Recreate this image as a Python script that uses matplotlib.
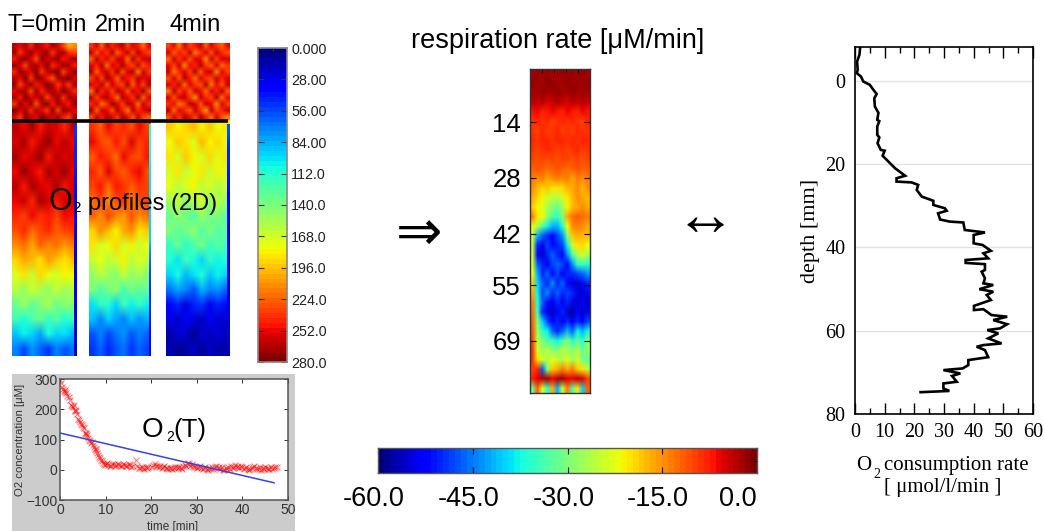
# oxygen profiles, respiration rate and depth profile panels

import numpy as np
import matplotlib
matplotlib.use('Agg')
import matplotlib.pyplot as plt
from matplotlib.transforms import ScaledTranslation

W = 1044
H = 531

# O2 images above the black line, values in uM
top_t0 = [
    [264, 252, 266, 244, 270, 258, 248, 268, 256, 236, 204, 214],
    [270, 240, 258, 272, 250, 266, 274, 238, 262, 268, 244, 236],
    [248, 268, 274, 254, 236, 272, 256, 264, 274, 246, 258, 270],
    [272, 256, 234, 270, 264, 250, 276, 242, 252, 272, 266, 248],
    [242, 274, 262, 252, 276, 238, 260, 270, 276, 234, 254, 274],
    [266, 250, 276, 240, 268, 272, 246, 230, 264, 270, 276, 256],
    [274, 236, 256, 272, 246, 258, 276, 266, 240, 254, 238, 268],
    [252, 270, 264, 232, 274, 242, 262, 274, 250, 276, 262, 244],
    [268, 246, 276, 258, 254, 270, 236, 256, 272, 240, 270, 264],
    [240, 272, 250, 274, 228, 264, 276, 248, 268, 258, 246, 274],
    [276, 258, 268, 244, 270, 252, 240, 272, 234, 274, 266, 252],
    [254, 238, 274, 262, 250, 276, 266, 254, 270, 246, 232, 268],
]
top_t2 = [
    [238, 256, 226, 262, 242, 250, 264, 232, 258, 246, 222, 252],
    [260, 230, 252, 240, 266, 224, 246, 260, 236, 264, 248, 234],
    [226, 264, 244, 258, 234, 262, 254, 220, 266, 240, 258, 262],
    [254, 242, 266, 220, 256, 248, 268, 244, 232, 260, 228, 246],
    [266, 224, 250, 262, 240, 268, 230, 258, 264, 218, 262, 240],
    [236, 260, 234, 268, 252, 226, 262, 246, 240, 266, 250, 258],
    [258, 248, 264, 228, 262, 244, 236, 268, 224, 254, 234, 266],
    [222, 268, 242, 254, 232, 266, 256, 228, 262, 248, 268, 230],
    [262, 236, 258, 266, 246, 220, 264, 250, 238, 268, 226, 256],
    [244, 254, 222, 240, 268, 258, 234, 266, 256, 222, 260, 242],
    [268, 226, 262, 250, 230, 264, 246, 216, 264, 242, 250, 264],
    [234, 260, 246, 268, 256, 238, 268, 252, 228, 262, 236, 224],
]
top_t4 = [
    [232, 252, 218, 258, 236, 246, 260, 226, 254, 240, 224, 250],
    [256, 224, 248, 234, 262, 216, 240, 256, 230, 260, 242, 228],
    [220, 260, 238, 254, 228, 258, 250, 212, 262, 234, 254, 258],
    [250, 236, 262, 212, 252, 242, 264, 238, 226, 256, 222, 240],
    [262, 218, 244, 258, 234, 264, 224, 254, 260, 210, 258, 234],
    [230, 256, 228, 264, 248, 220, 258, 240, 234, 262, 244, 254],
    [254, 242, 260, 222, 258, 238, 230, 264, 218, 250, 228, 262],
    [216, 264, 236, 250, 226, 262, 252, 222, 258, 242, 264, 224],
    [258, 230, 254, 262, 240, 212, 260, 244, 232, 264, 220, 252],
    [238, 250, 216, 234, 264, 254, 228, 262, 252, 214, 256, 236],
    [264, 220, 258, 244, 224, 260, 240, 208, 260, 236, 244, 260],
    [228, 256, 240, 264, 252, 232, 264, 248, 222, 258, 230, 218],
]
# O2 images below the black line
low_t0 = [
    [264, 252, 270, 248, 262, 258, 244, 266],
    [254, 268, 246, 262, 272, 250, 264, 252],
    [270, 250, 262, 274, 248, 266, 256, 260],
    [252, 272, 256, 246, 268, 254, 272, 250],
    [266, 246, 268, 258, 252, 270, 246, 262],
    [250, 262, 244, 268, 258, 246, 260, 256],
    [244, 232, 252, 240, 248, 236, 250, 246],
    [228, 242, 222, 236, 244, 226, 232, 238],
    [210, 220, 204, 226, 212, 222, 208, 218],
    [192, 204, 198, 186, 206, 194, 188, 200],
    [172, 184, 166, 190, 176, 170, 182, 178],
    [160, 148, 170, 154, 146, 166, 152, 158],
    [134, 150, 128, 144, 154, 132, 148, 140],
    [122, 108, 126, 132, 114, 128, 106, 120],
    [88, 104, 96, 82, 106, 92, 100, 86],
    [70, 56, 78, 64, 52, 74, 60, 68],
]
low_t2 = [
    [240, 226, 250, 234, 244, 228, 252, 236],
    [250, 232, 224, 246, 230, 254, 234, 244],
    [226, 248, 238, 222, 252, 236, 228, 246],
    [244, 224, 254, 236, 226, 244, 250, 230],
    [232, 246, 222, 248, 238, 224, 240, 234],
    [222, 234, 214, 230, 240, 218, 228, 236],
    [226, 210, 232, 216, 206, 228, 212, 222],
    [190, 210, 198, 182, 204, 214, 188, 196],
    [184, 168, 178, 192, 170, 182, 164, 176],
    [162, 176, 158, 170, 180, 160, 174, 166],
    [146, 160, 152, 140, 164, 148, 156, 144],
    [140, 124, 136, 146, 122, 138, 130, 134],
    [100, 118, 110, 96, 120, 104, 114, 102],
    [88, 72, 94, 80, 70, 90, 76, 84],
    [60, 74, 56, 68, 78, 58, 72, 64],
    [52, 64, 46, 60, 68, 50, 62, 56],
]
low_t4 = [
    [196, 180, 190, 200, 182, 194, 178, 188],
    [178, 196, 184, 172, 198, 182, 192, 176],
    [188, 170, 194, 180, 168, 190, 174, 186],
    [170, 186, 164, 178, 188, 166, 182, 172],
    [176, 158, 172, 182, 160, 174, 154, 168],
    [150, 164, 144, 158, 168, 148, 160, 152],
    [132, 148, 138, 126, 150, 134, 144, 130],
    [144, 128, 136, 148, 124, 140, 126, 134],
    [118, 134, 112, 126, 136, 116, 130, 122],
    [112, 98, 120, 106, 96, 116, 102, 110],
    [92, 106, 84, 100, 110, 88, 104, 96],
    [66, 80, 74, 58, 84, 70, 78, 62],
    [34, 48, 26, 44, 52, 30, 46, 38],
    [28, 18, 34, 24, 14, 32, 20, 26],
    [12, 24, 18, 8, 26, 14, 22, 16],
    [16, 6, 12, 20, 8, 18, 10, 14],
]
strip_t0 = [50, 48, 46, 40, 36, 32, 30, 28, 30, 30, 32, 30, 28, 26, 26]
strip_t2 = [110, 106, 104, 100, 100, 96, 96, 92, 72, 60, 50, 44, 40, 36, 30]
strip_t4 = [60, 48, 44, 40, 36, 34, 30, 30, 28, 28, 24, 24, 20, 18, 14]

scale_ticks = [0, 28, 56, 84, 112, 140, 168, 196, 224, 252, 280]
scale_labels = ['0.000', '28.00', '56.00', '84.00', '112.0', '140.0',
                '168.0', '196.0', '224.0', '252.0', '280.0']

# respiration rate image, uM/min
resp_rate = [
    [-2, -1, -2, -1, -2, -2, -1, -2, -1, -2, -1, -2],
    [-1, -2, -2, -1, -1, -2, -2, -1, -2, -1, -2, -1],
    [-2, -2, -1, -2, -2, -1, -2, -2, -1, -2, -2, -2],
    [-3, -4, -3, -5, -4, -3, -4, -5, -3, -4, -3, -4],
    [-7, -6, -8, -7, -6, -7, -8, -6, -7, -8, -6, -7],
    [-9, -8, -9, -8, -10, -9, -8, -9, -8, -9, -10, -8],
    [-9, -10, -8, -10, -9, -8, -10, -9, -10, -8, -9, -9],
    [-8, -9, -8, -8, -9, -8, -8, -9, -8, -9, -8, -8],
    [-9, -10, -9, -8, -9, -10, -9, -10, -9, -8, -10, -9],
    [-10, -11, -10, -11, -10, -11, -10, -10, -11, -10, -11, -10],
    [-12, -11, -12, -13, -12, -11, -12, -13, -12, -11, -12, -12],
    [-14, -15, -14, -16, -15, -14, -15, -14, -16, -14, -15, -14],
    [-15, -17, -19, -18, -20, -20, -19, -17, -16, -15, -17, -15],
    [-16, -19, -21, -24, -26, -26, -24, -20, -17, -15, -16, -17],
    [-18, -21, -23, -27, -30, -31, -28, -21, -17, -16, -15, -16],
    [-14, -20, -22, -29, -33, -35, -30, -16, -13, -12, -13, -14],
    [-22, -27, -32, -38, -42, -42, -36, -22, -15, -14, -15, -16],
    [-24, -42, -46, -50, -52, -48, -44, -30, -18, -16, -17, -17],
    [-26, -50, -54, -48, -52, -50, -48, -38, -24, -20, -19, -22],
    [-25, -52, -56, -50, -46, -50, -52, -44, -33, -27, -24, -27],
    [-24, -46, -50, -54, -48, -46, -48, -52, -44, -36, -34, -36],
    [-22, -42, -50, -46, -52, -48, -54, -50, -50, -48, -46, -44],
    [-18, -40, -46, -50, -44, -50, -46, -52, -54, -56, -52, -50],
    [-16, -38, -48, -44, -50, -46, -50, -48, -50, -54, -56, -52],
    [-14, -36, -46, -52, -54, -50, -54, -50, -54, -56, -52, -56],
    [-13, -34, -50, -54, -56, -52, -50, -56, -58, -52, -56, -54],
    [-12, -30, -40, -48, -52, -50, -54, -50, -54, -50, -52, -48],
    [-11, -28, -36, -38, -46, -50, -46, -42, -46, -38, -42, -38],
    [-10, -26, -30, -34, -34, -38, -34, -30, -36, -32, -36, -30],
    [-9, -24, -28, -26, -30, -30, -26, -28, -30, -26, -32, -28],
    [-9, -20, -24, -27, -22, -25, -27, -23, -28, -24, -30, -32],
    [-10, -8, -46, -30, -18, -16, -14, -16, -14, -18, -20, -26],
    [-8, -5, -3, -2, -6, -3, -2, -5, -6, -3, -5, -10],
    [-32, -12, -24, -36, -16, -42, -26, -14, -34, -20, -40, -12],
]
resp_ticks = [14, 28, 42, 55, 69]
rate_ticks = [-60, -45, -30, -15, 0]
rate_labels = ['-60.0', '-45.0', '-30.0', '-15.0', '0.0']

# O2 over time
time_min = [0, 0.2, 0.4, 0.6, 0.8, 1.0, 1.2, 1.4, 1.6, 2.0, 2.2, 2.4, 2.6, 2.8, 3.0, 3.2, 3.4,
            3.6, 3.8, 4.0, 4.2, 4.4, 4.6, 4.8, 5.0, 5.2, 5.4, 5.6, 5.8, 6.0, 6.2, 6.4, 6.6,
            6.8, 7.0, 7.2, 7.4, 7.6, 7.8, 8.0, 8.2, 8.4, 8.6, 8.8, 9.0, 9.2, 9.4, 9.6, 9.8,
            10.0, 10.3, 10.6, 10.9, 11.2, 11.5, 11.8, 12.1, 12.4, 12.7, 13.0, 13.3, 13.6,
            13.9, 14.2, 14.5, 14.8, 15.1, 15.4, 15.7, 16.0, 16.6, 17.0, 17.3, 17.6, 17.9,
            18.2, 18.5, 18.8, 19.1, 19.4, 20.2, 20.5, 20.8, 21.1, 21.4, 21.7, 22.0, 22.3,
            22.6, 22.9, 23.2, 23.5, 23.8, 24.1, 24.4, 24.7, 25.0, 25.3, 25.6, 25.9, 26.2,
            26.5, 26.8, 27.1, 27.4, 27.7, 28.0, 28.3, 28.6, 28.9, 29.2, 29.5, 29.8, 30.1,
            30.4, 30.7, 31.0, 31.3, 31.6, 31.9, 32.2, 32.5, 32.8, 33.1, 33.4, 33.7, 34.0,
            34.3, 34.6, 34.9, 35.2, 35.5, 35.8, 36.1, 36.4, 36.7, 37.0, 37.3, 37.6, 37.9,
            38.2, 38.5, 38.8, 39.1, 39.4, 39.7, 40.0, 40.3, 40.6, 40.9, 41.2, 41.5, 41.8,
            42.1, 42.4, 42.7, 43.0, 43.3, 43.6, 43.9, 44.2, 44.5, 44.8, 45.1, 45.4, 45.7,
            46.0, 46.3, 46.6, 46.9, 47.2, 47.6]
o2_conc = [298, 288, 275, 268, 262, 258, 264, 256, 245, 240, 232, 216, 212, 208, 214, 198, 194,
           196, 184, 170, 166, 160, 152, 150, 142, 138, 122, 118, 122, 116, 106, 100, 96, 88,
           92, 82, 76, 70, 68, 62, 56, 50, 44, 38, 32, 28, 22, 20, 16, 18, 22, 16, 12, 14, 20,
           18, 12, 15, 18, 16, 12, 14, 20, 17, 12, 14, 18, 16, 10, 12, 32, 12, 7, 5, 10, 6, 3,
           8, 5, 10, 8, 16, 18, 12, 14, 10, 14, 6, 8, 12, 5, 7, 3, 5, 7, 2, 5, 8, 9, 6, 9, 7,
           4, 12, 16, 12, 22, 18, 14, 20, 14, 8, 10, 6, 8, 12, 6, 2, 5, 9, 2, -2, 6, 2, 8, 4,
           9, 12, 5, 9, 3, 8, 0, -2, 5, 2, 8, 3, 12, 6, 10, 16, 8, 14, 6, 12, 8, 3, 5, 9, 2,
           -1, 4, 7, 8, 14, 6, 3, 4, 8, 1, 7, 3, 9, 5, 2, 4, 8, 2, 6, 10, 8]
fit_time = [0, 47]
fit_o2 = [122, -43]

# depth profile
rate_profile = [1.7, 1.5, 0.7, 0.9, 0.6, 2.0, 2.8, 5.0, 6.2, 7.3, 6.5, 6.7, 7.9, 7.5, 8.2,
                7.5, 7.5, 8.2, 7.6, 8.7, 10.0, 9.3, 10.7, 13.5, 16.9, 14.0, 14.0, 19.1,
                21.3, 20.8, 22.5, 26.4, 26.4, 30.3, 30.9, 28.0, 28.7, 32.0, 36.5, 37.0,
                43.8, 40.0, 40.0, 43.0, 45.8, 43.3, 44.9, 37.3, 37.3, 43.8, 43.8, 42.7,
                43.8, 43.3, 46.6, 41.9, 46.6, 44.4, 45.8, 40.1, 40.1, 43.3, 46.0, 51.3,
                46.6, 51.3, 48.9, 44.6, 48.3, 44.9, 49.4, 43.3, 41.0, 43.8, 44.9, 38.2,
                38.2, 36.3, 29.8, 35.5, 32.7, 34.3, 29.8, 29.8, 31.8, 22.1]
depth_profile = [-7.8, -6.2, -4.6, -2.6, -1.8, -1.0, 0.2, 1.0, 2.2, 3.2, 4.2, 6.2, 7.7, 9.4,
                 9.7, 11.0, 13.0, 13.6, 15.0, 16.6, 16.8, 18.0, 19.0, 21.0, 22.8, 23.4,
                 24.2, 24.4, 25.0, 26.2, 27.8, 28.8, 29.8, 30.6, 31.2, 31.8, 33.3, 33.8,
                 34.0, 35.8, 36.4, 37.0, 39.0, 39.4, 40.8, 41.4, 42.6, 43.0, 43.7, 44.0,
                 45.4, 45.8, 47.4, 48.6, 49.0, 50.0, 50.6, 51.4, 52.6, 54.0, 55.0, 54.8,
                 56.2, 56.6, 57.4, 58.4, 59.4, 59.8, 60.6, 61.8, 63.0, 63.4, 63.8, 64.6,
                 66.3, 67.0, 68.2, 69.0, 69.4, 70.2, 70.8, 72.2, 72.6, 73.8, 74.4, 74.7]

SANS = 'Liberation Sans'
SERIF = 'Liberation Serif'
jet = plt.get_cmap('jet', 64)


def axes_px(x0, y0, x1, y1, **kw):
    # axes placed by pixel box, y counted from the top of the picture
    return fig.add_axes([x0 / W, 1 - y1 / H, (x1 - x0) / W, (y1 - y0) / H], **kw)


def label(x, y, s, size, ha='left', family=SANS, **kw):
    page.text(x, y, s, fontsize=size, ha=ha, va='baseline', family=family, **kw)


def show_o2(ax, values):
    ax.imshow(values, cmap=jet, vmin=0, vmax=280, aspect='auto', interpolation='bilinear',
              interpolation_stage='rgba')
    ax.axis('off')


fig = plt.figure(figsize=(W / 100, H / 100), dpi=100)

# O2 images
boxes = [(12, 77, 74), (89, 151, 149), (166, 230, 227)]
tops = [top_t0, top_t2, top_t4]
lows = [low_t0, low_t2, low_t4]
strips = [strip_t0, strip_t2, strip_t4]
for (x0, x1, xs), top, low, strip in zip(boxes, tops, lows, strips):
    show_o2(axes_px(x0, 43, x1, 120), top)
    show_o2(axes_px(x0, 120, x1, 356), low)
    show_o2(axes_px(xs, 124, x1, 356), np.array(strip)[:, None])

# O2 colour scale
cax = axes_px(258, 48, 287, 362)
cax.imshow(np.linspace(0, 280, 64)[:, None], cmap=jet, vmin=0, vmax=280, aspect='auto',
           extent=[0, 1, 280, 0])
cax.set_xticks([0.5])
cax.set_xticklabels([])
cax.set_yticks(scale_ticks)
cax.set_yticklabels(scale_labels, fontsize=10.3, family=SANS, color='#222222')
cax.yaxis.tick_right()
cax.tick_params(axis='y', direction='in', length=4, width=0.8, left=True, right=True, pad=3,
                color='#333333')
cax.tick_params(axis='x', direction='in', length=2, width=0.8, top=True, bottom=True,
                color='#333333')
for s in cax.spines.values():
    s.set_color('#888888')
    s.set_linewidth(1.2)

# respiration image
rax = axes_px(530, 69.3, 590, 392.7)
rax.imshow(resp_rate, cmap=jet, vmin=-60, vmax=0, aspect='auto', interpolation='bilinear',
           interpolation_stage='rgba', extent=[0, 1, 82, 0.74])
rax.set_yticks(resp_ticks)
rax.set_yticklabels([str(v) for v in resp_ticks], fontsize=18.5, family=SANS)
rax.set_xticks([0.2, 0.4, 0.6, 0.8])
rax.set_xticklabels([])
rax.tick_params(axis='y', direction='in', length=4, width=0.8, left=True, right=True, pad=6.5)
rax.tick_params(axis='x', direction='in', length=3, width=0.8, top=True, bottom=False)
for s in rax.spines.values():
    s.set_color('#333333')
    s.set_linewidth(1)

# respiration colour scale
bax = axes_px(378, 448, 757, 473)
bax.imshow(np.linspace(-60, 0, 64)[None, :], cmap=jet, vmin=-60, vmax=0, aspect='auto',
           extent=[-60, 0, 0, 1])
bax.set_xticks(rate_ticks)
bax.set_xticklabels(rate_labels, fontsize=19.5, family=SANS)
bax.set_yticks([0.5])
bax.set_yticklabels([])
bax.tick_params(axis='x', direction='in', length=4, width=0.8, top=True, bottom=True, pad=9)
bax.tick_params(axis='y', direction='in', length=3, width=0.8, left=True, right=True)
nudge = ScaledTranslation(-4 / 100, 0, fig.dpi_scale_trans)
for t in bax.get_xticklabels()[:-1]:
    t.set_transform(t.get_transform() + nudge)
bax.get_xticklabels()[-1].set_ha('right')
for s in bax.spines.values():
    s.set_color('#555555')
    s.set_linewidth(1)

# O2 against time, on grey
grey = axes_px(12, 374, 295, 531)
grey.set_facecolor('#cccccc')
grey.set_xticks([])
grey.set_yticks([])
for s in grey.spines.values():
    s.set_visible(False)

tax = axes_px(60, 379.3, 287.7, 500)
tax.plot(time_min, o2_conc, ls='none', marker='x', ms=4.5, mew=0.8, color='#ff0000', alpha=0.5)
tax.plot(fit_time, fit_o2, color='#3344ee', lw=1.1)
tax.set_xlim(0, 50)
tax.set_ylim(-100, 300)
tax.set_xticks([0, 10, 20, 30, 40, 50])
tax.set_yticks([-100, 0, 100, 200, 300])
tax.tick_params(direction='in', length=3, width=0.7, labelsize=10, pad=2, top=True, right=True,
                colors='#333333')
for t in tax.get_xticklabels() + tax.get_yticklabels():
    t.set_family(SANS)
for s in tax.spines.values():
    s.set_color('#555555')
    s.set_linewidth(1.1)

# depth profile
dax = axes_px(855, 47.3, 1033, 414.3)
dax.plot(rate_profile, depth_profile, color='black', lw=1.9, solid_joinstyle='miter')
dax.set_xlim(0, 60)
dax.set_ylim(80, -8)
dax.set_yticks([0, 20, 40, 60, 80])
dax.set_xticks(np.arange(0, 61, 10))
dax.set_xticks(np.arange(0, 61, 5), minor=True)
dax.grid(axis='y', color='#e2e2e2', lw=1)
dax.set_axisbelow(True)
dax.tick_params(axis='x', which='major', direction='in', length=8, width=1, top=True, labelsize=14.5, pad=6)
dax.tick_params(axis='x', which='minor', direction='in', length=4, width=1, top=True)
dax.tick_params(axis='y', length=0, labelsize=14.5, pad=7)
for t in dax.get_xticklabels() + dax.get_yticklabels():
    t.set_family(SERIF)
for s in dax.spines.values():
    s.set_linewidth(1.2)

# everything else is lettering on a page in pixel coordinates
page = fig.add_axes([0, 0, 1, 1], zorder=10)
page.set_xlim(0, W)
page.set_ylim(H, 0)
page.axis('off')
page.plot([12, 228], [120.5, 120.5], color='black', lw=2.6, solid_capstyle='butt')

label(7, 31, 'T=0min', 17)
label(95, 31, '2min', 17)
label(169, 31, '4min', 17)
label(48, 210, 'O', 22)
label(72, 212, '2', 11)
label(88, 210, 'profiles (2D)', 17)
label(411, 48, 'respiration rate [\u03bcM/min]', 19.5)
label(142, 437, 'O', 20)
label(166, 441, '2', 10)
label(173, 437, '(T)', 18.5)
label(173, 530, 'time [min]', 8.5, ha='center', color='#333333')
page.text(20, 440, 'O2 concentration [\u03bcM]', fontsize=8.2, family=SANS, rotation=90,
          ha='center', va='center', color='#333333')
label(419, 250, '\u21d2', 40, ha='center', family=[SERIF, 'DejaVu Sans'])
label(705, 235, '\u2194', 44, ha='center', family=[SERIF, 'DejaVu Sans'])
page.text(810, 231, 'depth [mm]', fontsize=16, family=SERIF, rotation=90, ha='center', va='center')
label(856, 470, 'O', 15, family=SERIF)
label(873, 478, '2', 10, family=SERIF)
label(884, 470, 'consumption rate', 15, family=SERIF)
label(943, 492, '[ \u03bcmol/l/min ]', 15, ha='center', family=SERIF)

fig.savefig('out.png', dpi=100)
